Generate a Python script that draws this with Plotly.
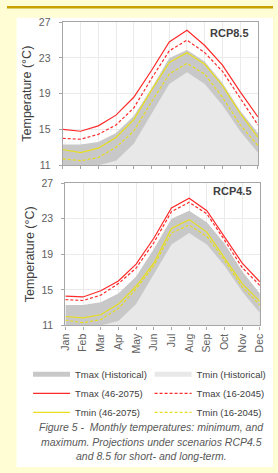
import plotly.graph_objects as go

months = ["Jan", "Feb", "Mar", "Apr", "May", "Jun", "Jul", "Aug", "Sep", "Oct", "Nov", "Dec"]

tmax_hist = [13.3, 13.3, 13.6, 14.6, 16.5, 19.6, 23.0, 23.9, 22.6, 20.2, 17.1, 14.6]
tmin_hist = [10.5, 10.3, 11.0, 11.5, 13.4, 16.7, 20.1, 21.4, 20.1, 17.7, 14.8, 12.4]

rcp85_tmax_long = [15.0, 14.8, 15.4, 16.6, 18.6, 21.6, 24.8, 26.1, 24.4, 22.2, 19.2, 16.4]
rcp85_tmax_short = [14.0, 13.9, 14.45, 15.5, 17.4, 20.7, 23.8, 25.0, 23.6, 21.5, 18.5, 15.5]
rcp85_tmin_long = [12.75, 12.4, 12.9, 14.1, 16.1, 19.4, 22.5, 23.6, 22.3, 19.9, 16.8, 14.1]
rcp85_tmin_short = [11.7, 11.5, 11.85, 13.0, 14.8, 18.1, 21.2, 22.4, 21.2, 18.6, 15.5, 13.2]

rcp45_tmax_long = [14.3, 14.2, 14.9, 16.0, 17.9, 20.8, 24.2, 25.3, 23.9, 21.0, 18.0, 15.9]
rcp45_tmax_short = [13.9, 13.8, 14.4, 15.7, 17.45, 20.3, 23.8, 24.85, 23.55, 20.6, 17.5, 15.5]
rcp45_tmin_long = [12.0, 11.85, 12.2, 13.4, 15.4, 18.0, 21.9, 22.9, 21.5, 18.6, 15.7, 13.7]
rcp45_tmin_short = [11.6, 11.3, 11.65, 12.9, 15.1, 17.7, 21.4, 22.3, 21.0, 18.3, 15.3, 13.3]

y_ticks = [11, 15, 19, 23, 27]
panel_labels = ["RCP8.5", "RCP4.5"]
caption_lines = [
    "Figure 5 -  Monthly temperatures: minimum, and",
    "maximum. Projections under scenarios RCP4.5",
    "and 8.5 for short- and long-term.",
]

W, H = 278, 473
RED = "#FF2A2A"
YEL = "#E8DE1E"
DARK = "#C8C8C8"
LIGHT = "#E8E8E8"
xidx = list(range(len(months)))

fig = go.Figure()

panels = [
    ("x", "y", rcp85_tmax_long, rcp85_tmax_short, rcp85_tmin_long, rcp85_tmin_short),
    ("x2", "y2", rcp45_tmax_long, rcp45_tmax_short, rcp45_tmin_long, rcp45_tmin_short),
]
for xa, ya, txl, txs, tnl, tns in panels:
    fig.add_trace(go.Scatter(x=xidx, y=tmax_hist, xaxis=xa, yaxis=ya, mode="lines",
                             line=dict(width=0, color=DARK), fill="tozeroy", fillcolor=DARK,
                             showlegend=False, hoverinfo="skip"))
    fig.add_trace(go.Scatter(x=xidx, y=tmin_hist, xaxis=xa, yaxis=ya, mode="lines",
                             line=dict(width=0, color=LIGHT), fill="tozeroy", fillcolor=LIGHT,
                             showlegend=False, hoverinfo="skip"))
    fig.add_trace(go.Scatter(x=xidx, y=tns, xaxis=xa, yaxis=ya, mode="lines",
                             line=dict(width=1.2, color=YEL, dash="3px,2px"), showlegend=False))
    fig.add_trace(go.Scatter(x=xidx, y=tnl, xaxis=xa, yaxis=ya, mode="lines",
                             line=dict(width=1.2, color=YEL), showlegend=False))
    fig.add_trace(go.Scatter(x=xidx, y=txs, xaxis=xa, yaxis=ya, mode="lines",
                             line=dict(width=1.2, color=RED, dash="3px,2px"), showlegend=False))
    fig.add_trace(go.Scatter(x=xidx, y=txl, xaxis=xa, yaxis=ya, mode="lines",
                             line=dict(width=1.2, color=RED), showlegend=False))

# legend-only entries
legend_entries = [
    ("Tmax (Historical)", DARK, 5, "solid", "legend", 1),
    ("Tmax (46-2075)", RED, 1.2, "solid", "legend", 2),
    ("Tmin (46-2075)", YEL, 1.2, "solid", "legend", 3),
    ("Tmin (Historical)", LIGHT, 5, "solid", "legend2", 1),
    ("Tmax (16-2045)", RED, 1.2, "3px,2px", "legend2", 2),
    ("Tmin (16-2045)", YEL, 1.2, "3px,2px", "legend2", 3),
]
for name, col, w, dash, lg, rk in legend_entries:
    fig.add_trace(go.Scatter(x=[None], y=[None], mode="lines", name=name,
                             line=dict(color=col, width=w, dash=dash),
                             legend=lg, legendrank=rk, showlegend=True))

AX = "#A6A6A6"
TICKF = dict(family="Liberation Sans, Arial, sans-serif", size=10.5, color="#606060")


def xa_cfg(domain, anchor, labels):
    return dict(domain=domain, anchor=anchor, range=[0, 11], tickmode="array",
                tickvals=xidx, ticktext=months, showticklabels=labels, tickangle=-90,
                ticks="outside", ticklen=3, tickcolor=AX, showgrid=True, gridcolor="#EBEBEB",
                gridwidth=1, showline=True, linecolor=AX, linewidth=1.3, mirror=True,
                zeroline=False, tickfont=TICKF, fixedrange=True)


def ya_cfg(domain, anchor):
    return dict(domain=domain, anchor=anchor, range=[11, 27], tickmode="array",
                tickvals=y_ticks, ticks="outside", ticklen=3, tickcolor=AX,
                showgrid=True, gridcolor="#EBEBEB", gridwidth=1, showline=True,
                linecolor=AX, linewidth=1.3, mirror=True, zeroline=False, tickfont=TICKF,
                ticklabelstandoff=6,
                title=dict(text="Temperature (°C)", standoff=4,
                           font=dict(family="Liberation Sans, Arial, sans-serif", size=12.5,
                                     color="#404040")),
                fixedrange=True)


LEG_Y = (H - 363) / H
fig.update_layout(
    width=W, height=H,
    margin=dict(l=0, r=0, t=0, b=0),
    paper_bgcolor="#FFFDD3",
    plot_bgcolor="white",
    xaxis=xa_cfg([58.3 / W, 262.3 / W], "y", False),
    yaxis=ya_cfg([(H - 163.3) / H, (H - 16.7) / H], "x"),
    xaxis2=xa_cfg([61 / W, 264.3 / W], "y2", True),
    yaxis2=ya_cfg([(H - 327.7) / H, (H - 181.8) / H], "x2"),
    legend=dict(x=22 / W, y=LEG_Y, xanchor="left", yanchor="top",
                bgcolor="rgba(0,0,0,0)", itemwidth=37, tracegroupgap=0,
                font=dict(family="Liberation Sans, Arial, sans-serif", size=9.5, color="#404040")),
    legend2=dict(x=149 / W, y=LEG_Y, xanchor="left", yanchor="top",
                 bgcolor="rgba(0,0,0,0)", itemwidth=37, tracegroupgap=0,
                 font=dict(family="Liberation Sans, Arial, sans-serif", size=9.5, color="#404040")),
    shapes=[
        dict(type="rect", xref="paper", yref="paper", x0=10 / W, x1=1, y0=0, y1=(H - 12) / H,
             fillcolor="white", line=dict(width=0), layer="below"),
        dict(type="rect", xref="paper", yref="paper", x0=0, x1=1, y0=(H - 2.5) / H, y1=1,
             fillcolor="#C8A000", line=dict(width=0), layer="below"),
    ],
    showlegend=True,
)

fig.add_annotation(text="<b>" + panel_labels[0] + "</b>", xref="x domain", yref="y domain",
                   x=0.964, y=0.923, xanchor="right", yanchor="middle", showarrow=False,
                   font=dict(family="Liberation Sans, Arial, sans-serif", size=11, color="#404040"))
fig.add_annotation(text="<b>" + panel_labels[1] + "</b>", xref="x2 domain", yref="y2 domain",
                   x=0.969, y=0.944, xanchor="right", yanchor="middle", showarrow=False,
                   font=dict(family="Liberation Sans, Arial, sans-serif", size=11, color="#404040"))

for line, ypx in zip(caption_lines, [432, 447, 462]):
    fig.add_annotation(text="<i>" + line + "</i>", xref="paper", yref="paper",
                       x=151 / W, y=(H - ypx) / H, xanchor="center", yanchor="middle",
                       showarrow=False,
                       font=dict(family="Liberation Sans, Arial, sans-serif", size=10.5,
                                 color="#595959"))

fig.write_html("out.html", config={"displayModeBar": False},
               post_script="document.body.style.margin='0';document.body.style.overflow='hidden';")
